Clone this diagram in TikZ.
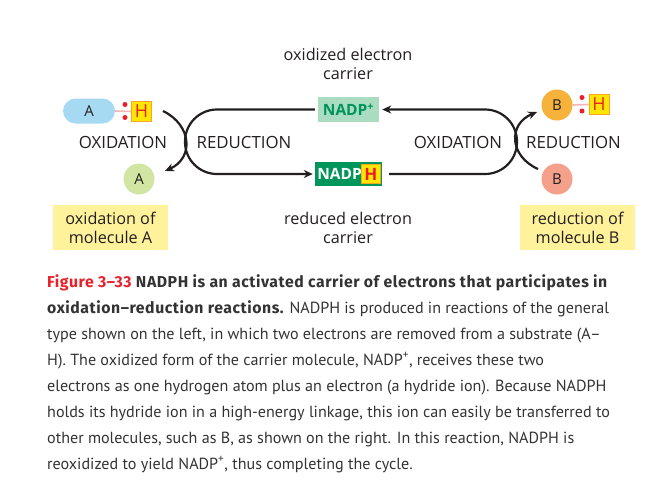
\documentclass[tikz,border=0pt]{standalone}
\usepackage{fontspec}
\setmainfont{PT Sans}
\newfontfamily\capboldfont[LetterSpace=3.5]{Fira Sans}
\newfontfamily\diagfont{Open Sans}
\usetikzlibrary{arrows.meta}
\definecolor{txt}{HTML}{231F20}
\definecolor{capred}{HTML}{E8202A}
\definecolor{captxt}{HTML}{333333}
\definecolor{pillblue}{HTML}{A6D9F2}
\definecolor{hyellow}{HTML}{FFE600}
\definecolor{horange}{HTML}{F5A623}
\definecolor{hred}{HTML}{E8202A}
\definecolor{linkpink}{HTML}{F6B6B6}
\definecolor{agreen}{HTML}{D3E5A3}
\definecolor{borange}{HTML}{F7B23B}
\definecolor{bsalmon}{HTML}{F4A08B}
\definecolor{nadpolight}{HTML}{A9DCC0}
\definecolor{nadpotext}{HTML}{00945A}
\definecolor{nadphdark}{HTML}{00955B}
\definecolor{labelyellow}{HTML}{FFF29B}
\newcommand{\capb}[1]{{\capboldfont\bfseries\fontsize{15.8}{16}\selectfont #1}}
\begin{document}
\begin{tikzpicture}[x=1pt,y=-1pt,
  lab/.style={font=\diagfont\fontsize{16.2}{18.5}\selectfont, text=txt, inner sep=0pt, align=center},
  caps/.style={font=\diagfont\fontsize{16.8}{18}\selectfont, text=txt, inner sep=0pt},
  hbox/.style={draw=horange, fill=hyellow, line width=0.9pt, text=hred, minimum size=20pt, inner sep=0pt, font=\diagfont\fontsize{18}{18}\selectfont},
  edot/.style={circle, fill=hred, inner sep=0pt, minimum size=5pt},
  link/.style={draw=linkpink, line width=1.6pt},
  molc/.style={circle, inner sep=0pt, minimum size=31pt, text=txt, font=\diagfont\fontsize{15}{15}\selectfont},
  conn/.style={draw=txt, line width=2.2pt},
  tip/.style={-{Stealth[length=9pt,width=8pt]}},
  ybox/.style={fill=labelyellow, minimum width=115pt, minimum height=45pt, inner sep=0pt, align=center, text=txt, font=\diagfont\fontsize{16.2}{19}\selectfont},
  capline/.style={anchor=base west, inner sep=0pt, text=captxt, font=\fontsize{16.1}{16}\selectfont}
]
\useasboundingbox (0,0) rectangle (670,480);
% left molecule A-H
\node[fill=pillblue, rounded corners=12.5pt, minimum width=52pt, minimum height=25pt, inner sep=0pt, text=txt, font=\diagfont\fontsize{15}{15}\selectfont] (pillA) at (89,111) {A};
\node[hbox] (hA) at (141.5,111.5) {H};
\draw[link] (pillA.east) -- (hA.west);
\node[edot] (dA1) at (125,104.5) {};
\node[edot] (dA2) at (125,117.5) {};
\node[molc, fill=agreen] (molA) at (139,179) {A};
\node[caps] (oxL) at (123,142) {OXIDATION};
\node[caps] (redL) at (244,142) {REDUCTION};
% right molecule B
\node[molc, fill=borange] (molBH) at (557,105) {B};
\node[hbox] (hB) at (599,104.5) {H};
\draw[link] (molBH.east) -- (hB.west);
\node[edot] (dB1) at (582,97.5) {};
\node[edot] (dB2) at (582,111) {};
\node[molc, fill=bsalmon] (molB) at (557,179) {B};
\node[caps] (oxR) at (458,142) {OXIDATION};
\node[caps] (redR) at (573.5,142) {REDUCTION};
% carriers
\node[fill=nadpolight, minimum width=61pt, minimum height=25pt, inner sep=0pt, text=nadpotext, font=\diagfont\bfseries\fontsize{15.5}{15.5}\selectfont] (nadpo) at (348.5,109.5) {NADP\textsuperscript{+}};
\node[fill=nadphdark, minimum width=67pt, minimum height=24pt, inner sep=0pt] (nadph) at (348.5,174) {};
\node[text=white, inner sep=0pt, font=\diagfont\bfseries\fontsize{15.5}{15.5}\selectfont] (nadphT) at (339.5,174) {NADP};
\node[hbox, minimum size=19pt, font=\diagfont\bfseries\fontsize{17}{17}\selectfont] (hN) at (371,174) {H};
\node[lab] (oxcar) at (348,64) {oxidized electron\\carrier};
\node[lab] (redcar) at (348,228) {reduced electron\\carrier};
% connectors
\coordinate (lt) at (185,109.5);
\coordinate (lb) at (185,174);
\coordinate (rt) at (517,109.5);
\coordinate (rb) at (517,174);
\draw[conn, tip, rounded corners=32pt, shorten <=3pt, shorten >=2pt] (nadpo.west) -- (lt) -- (lb) -- (nadph.west);
\draw[conn, tip, rounded corners=32pt, shorten <=7pt, shorten >=3pt] (nadph.east) -- (rb) -- (rt) -- (nadpo.east);
\coordinate (aS) at (163,111);
\coordinate (aE) at (165,171);
\draw[conn, tip] (aS) .. controls (192,125) and (194,158) .. (aE);
\coordinate (bS) at (538,169);
\coordinate (bE) at (537,112);
\draw[conn, tip] (bS) .. controls (509,156) and (508,124) .. (bE);
% yellow labels
\node[ybox] (yA) at (110.5,227.5) {oxidation of\\molecule A};
\node[ybox] (yB) at (577.5,227.5) {reduction of\\molecule B};
% caption
\node[capline] (c1) at (47,287) {\capb{\textcolor{capred}{Figure 3–33} NADPH is an activated carrier of electrons that participates in}};
\node[capline] (c2) at (47,313) {\capb{oxidation–reduction reactions.} NADPH is produced in reactions of the general};
\node[capline] (c3) at (47,339) {type shown on the left, in which two electrons are removed from a substrate (A–};
\node[capline] (c4) at (47,365) {H). The oxidized form of the carrier molecule, NADP\textsuperscript{+}, receives these two};
\node[capline] (c5) at (47,391) {electrons as one hydrogen atom plus an electron (a hydride ion). Because NADPH};
\node[capline] (c6) at (47,417) {holds its hydride ion in a high-energy linkage, this ion can easily be transferred to};
\node[capline] (c7) at (47,443) {other molecules, such as B, as shown on the right. In this reaction, NADPH is};
\node[capline] (c8) at (47,469) {reoxidized to yield NADP\textsuperscript{+}, thus completing the cycle.};
\end{tikzpicture}
\end{document}
